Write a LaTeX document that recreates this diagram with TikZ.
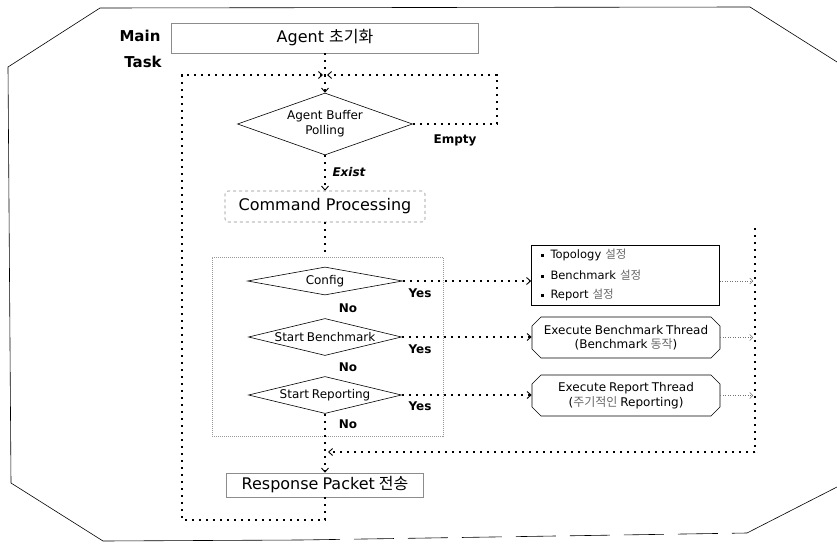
\documentclass[tikz,border=0pt]{standalone}
\usepackage{fontspec}
\setmainfont{DejaVu Sans}
\newfontfamily\kr{Noto Sans CJK KR}
\usetikzlibrary{arrows.meta,shapes.geometric,shapes.misc}
\newcommand{\fs}[1]{\fontsize{#1}{#1}\selectfont}
\newcommand{\sq}{\raisebox{0.25ex}{\rule{3pt}{3pt}}\hspace{7pt}}
\begin{document}
\begin{tikzpicture}[x=1pt,y=-1pt,
  dl/.style={line width=1.2pt, dash pattern=on 2pt off 5pt},
  gdl/.style={draw=black!55, line width=0.5pt, dash pattern=on 1pt off 1.5pt},
  tip/.style={-{Straight Barb[length=4pt,width=7pt,line width=0.9pt]}},
  gtip/.style={-{Straight Barb[length=3pt,width=6pt,line width=0.5pt]}},
  greybox/.style={draw=black!45, line width=0.6pt, inner sep=0},
  dia/.style={diamond, draw, line width=0.6pt, inner sep=0},
  dtxt/.style={font=\fs{12}},
  yn/.style={font=\bfseries\fs{12}},
  rbox/.style={draw, line width=0.6pt, inner sep=0, minimum width=188, align=center},
  exe/.style={rbox, chamfered rectangle, chamfered rectangle xsep=3pt, chamfered rectangle ysep=6pt, minimum height=41, font=\fs{12}}
]
\useasboundingbox (0,0) rectangle (837,543);

% outer frame
\draw[line width=0.6pt] (837,62) -- (750,7) -- (100,8) -- (8,67) -- (11,483) -- (103,541) -- (300,540);
\draw[line width=0.6pt, dash pattern=on 40pt off 14pt] (300,540) -- (747,533);
\draw[line width=0.6pt] (747,533) -- (837,487);

% title
\node[font=\bfseries\fs{15}, inner sep=0] (mn) at (140,36) {Main};
\node[font=\bfseries\fs{15}, inner sep=0] (tk) at (143,62) {Task};

% main flow
\node[greybox, minimum width=307, minimum height=30, font=\fs{16}] (init) at (325,38) {Agent\hspace{5pt}{\kr 초기화}};
\coordinate (jn) at (325,75);
\node[dia, minimum width=175, minimum height=62, label={[dtxt, align=center]center:Agent Buffer\\[3pt]Polling}] (poll) at (325,124) {};
\node[greybox, dashed, rounded corners=3pt, minimum width=200, minimum height=31, font=\fs{16}] (cmd) at (325,206.5) {Command Processing};
\node[draw=black!40, line width=0.4pt, dash pattern=on 1pt off 1pt, minimum width=231, minimum height=179, inner sep=0] (cnt) at (327.5,346.5) {};
\node[dia, minimum width=155, minimum height=28, label={[dtxt]center:Config}] (cfg) at (325,281) {};
\node[dia, minimum width=153, minimum height=37, label={[dtxt]center:Start\hspace{3pt}Benchmark}] (bch) at (325,337) {};
\node[dia, minimum width=153, minimum height=37, label={[dtxt]center:Start\hspace{3pt}Reporting}] (rep) at (325,395) {};
\node[greybox, minimum width=197, minimum height=24, font=\fs{16}] (resp) at (325,485) {Response\hspace{4pt}Packet\hspace{4pt}{\kr 전송}};

% action boxes
\node[rbox, minimum height=60, align=left, font=\fs{11.5}, text width=170] (cfgbox) at (625.5,275)
  {\sq Topology\hspace{4pt}{\kr\color{black!60}설정}\\[8pt]\sq Benchmark\hspace{4pt}{\kr\color{black!60}설정}\\[8pt]\sq Report\hspace{4pt}{\kr\color{black!60}설정}};
\node[exe] (bchbox) at (626,337.5) {Execute\hspace{3pt}Benchmark\hspace{3pt}Thread\\[2pt](Benchmark\hspace{3pt}{\kr\color{black!60}동작})};
\node[exe] (repbox) at (626,395.5) {Execute\hspace{3pt}Report\hspace{3pt}Thread\\[2pt]({\kr\color{black!60}주기적인}\hspace{3pt}Reporting)};

% labels
\node[font=\bfseries\itshape\fs{12}] (lex) at (349,172) {Exist};
\node[yn] (lem) at (455,140) {Empty};
\node[yn] (y1) at (420,293) {Yes};
\node[yn] (y2) at (420,349) {Yes};
\node[yn] (y3) at (420,406) {Yes};
\node[yn] (n1) at (348,308) {No};
\node[yn] (n2) at (348,367) {No};
\node[yn] (n3) at (348,424) {No};

% loop corners and bus
\coordinate (lt) at (182,75);
\coordinate (lb) at (182,520);
\coordinate (rt) at (497,75);
\coordinate (rb) at (497,124);
\coordinate (bt) at (755,228);
\coordinate (bb) at (755,452);
\coordinate (mg) at (325,452);

% connectors
\draw[dl] (init.south) -- (jn);
\draw[dl, tip] (jn) -- (poll.north);
\draw[dl, tip] (poll.east) -- (rb) -- (rt) -- ([xshift=2pt]jn);
\draw[dl, tip] (resp.south) -- (resp.south |- lb) -- (lb) -- (lt) -- ([xshift=-2pt]jn);
\draw[dl, tip] (poll.south) -- (cmd.north);
\draw[dl] (cmd.south) -- (cmd.south |- cnt.north);
\draw[dl, tip] (cfg.east) -- (cfgbox.west |- cfg.east);
\draw[dl, tip] (bch.east) -- (bchbox.west |- bch.east);
\draw[dl, tip] (rep.east) -- (repbox.west |- rep.east);
\draw[dl, tip] (rep.south) -- (resp.north);
\draw[dl] (bt) -- (bb);
\draw[dl, tip] (bb) -- ([xshift=3pt]mg);
\draw[gdl, gtip] (cfgbox.east |- cfg.east) -- ([xshift=-2pt]bt |- cfg.east);
\draw[gdl, gtip] (bchbox.east) -- ([xshift=-2pt]bt |- bchbox.east);
\draw[gdl, gtip] (repbox.east) -- ([xshift=-2pt]bt |- repbox.east);
\end{tikzpicture}
\end{document}
